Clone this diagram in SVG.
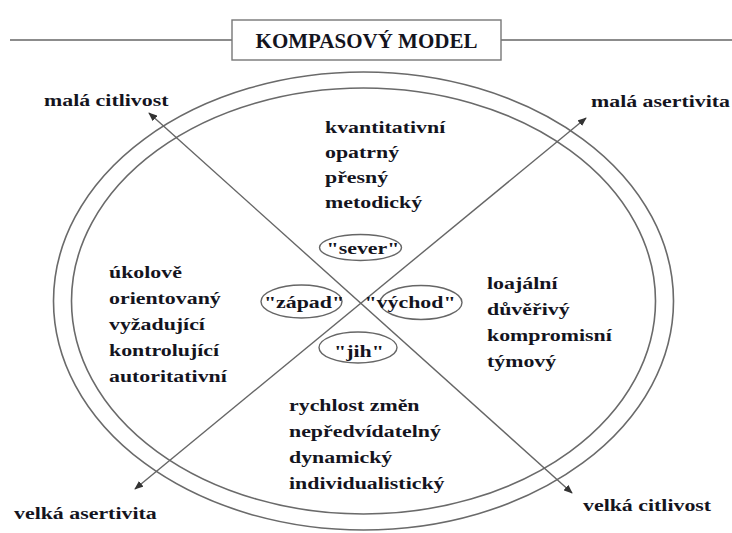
<svg xmlns="http://www.w3.org/2000/svg" width="732" height="533" viewBox="0 0 732 533">
<style>
.t{font-family:"Liberation Serif","Times New Roman",serif;font-weight:bold;font-size:17.5px;fill:#14141e}
.ttl{font-family:"Liberation Serif","Times New Roman",serif;font-weight:bold;font-size:21px;fill:#14141e}
.ln{stroke:#666;stroke-width:1.4;fill:none}
.el{stroke:#6a6a6a;stroke-width:1.6;fill:none}
.se{stroke:#666;stroke-width:1.4;fill:none}
</style>
<defs>
<marker id="ah" viewBox="0 0 10 8" markerWidth="9" markerHeight="7.5" refX="9" refY="4" orient="auto-start-reverse" markerUnits="userSpaceOnUse">
<path d="M0,0 L10,4 L0,8 z" fill="#333"/>
</marker>
</defs>
<rect width="732" height="533" fill="#fff"/>

<g id="title">
<line class="ln" x1="10" y1="40" x2="232" y2="40"/>
<line class="ln" x1="501" y1="40" x2="732" y2="40"/>
<rect x="232" y="20" width="269" height="40" fill="#fff" stroke="#777" stroke-width="1.4"/>
<text class="ttl" x="366.5" y="48" text-anchor="middle">KOMPASOVÝ MODEL</text>
</g>

<g id="compass">
<ellipse class="el" cx="363.5" cy="301" rx="310" ry="229"/>
<ellipse class="el" cx="363.5" cy="301" rx="292" ry="213"/>
</g>

<g id="connectors">
<line class="ln" x1="149" y1="113" x2="572" y2="493" marker-start="url(#ah)" marker-end="url(#ah)"/>
<line class="ln" x1="586" y1="118" x2="135" y2="489" marker-start="url(#ah)" marker-end="url(#ah)"/>
</g>

<g id="axis-labels">
<g transform="translate(44,0) scale(1.25,1)"><text class="t" x="0" y="106">malá citlivost</text></g>
<g transform="translate(591,0) scale(1.25,1)"><text class="t" x="0" y="107">malá asertivita</text></g>
<g transform="translate(14,0) scale(1.25,1)"><text class="t" x="0" y="519">velká asertivita</text></g>
<g transform="translate(583,0) scale(1.25,1)"><text class="t" x="0" y="511">velká citlivost</text></g>
</g>

<g id="north-text" transform="translate(325,0) scale(1.25,1)">
<text class="t" x="0" y="133">kvantitativní</text>
<text class="t" x="0" y="158">opatrný</text>
<text class="t" x="0" y="183">přesný</text>
<text class="t" x="0" y="208">metodický</text>
</g>

<g id="west-text" transform="translate(109,0) scale(1.25,1)">
<text class="t" x="0" y="278">úkolově</text>
<text class="t" x="0" y="304">orientovaný</text>
<text class="t" x="0" y="330">vyžadující</text>
<text class="t" x="0" y="356">kontrolující</text>
<text class="t" x="0" y="382">autoritativní</text>
</g>

<g id="east-text" transform="translate(487,0) scale(1.25,1)">
<text class="t" x="0" y="289">loajální</text>
<text class="t" x="0" y="315">důvěřivý</text>
<text class="t" x="0" y="341">kompromisní</text>
<text class="t" x="0" y="367">týmový</text>
</g>

<g id="south-text" transform="translate(289,0) scale(1.25,1)">
<text class="t" x="0" y="411">rychlost změn</text>
<text class="t" x="0" y="437">nepředvídatelný</text>
<text class="t" x="0" y="463">dynamický</text>
<text class="t" x="0" y="489">individualistický</text>
</g>

<g id="sever">
<ellipse class="se" cx="360.5" cy="247.5" rx="41" ry="13"/>
<g transform="translate(363,0) scale(1.25,1)"><text class="t" x="0" y="254" text-anchor="middle">"sever"</text></g>
</g>
<g id="zapad">
<ellipse class="se" cx="301.5" cy="301.5" rx="40.5" ry="16.5"/>
<g transform="translate(304,0) scale(1.25,1)"><text class="t" x="0" y="308" text-anchor="middle">"západ"</text></g>
</g>
<g id="vychod">
<ellipse class="se" cx="421" cy="302.5" rx="41" ry="17"/>
<g transform="translate(410,0) scale(1.25,1)"><text class="t" x="0" y="308" text-anchor="middle">"východ"</text></g>
</g>
<g id="jih">
<ellipse class="se" cx="358" cy="347.5" rx="39" ry="15.5"/>
<g transform="translate(359,0) scale(1.25,1)"><text class="t" x="0" y="357" text-anchor="middle">"jih"</text></g>
</g>
</svg>
